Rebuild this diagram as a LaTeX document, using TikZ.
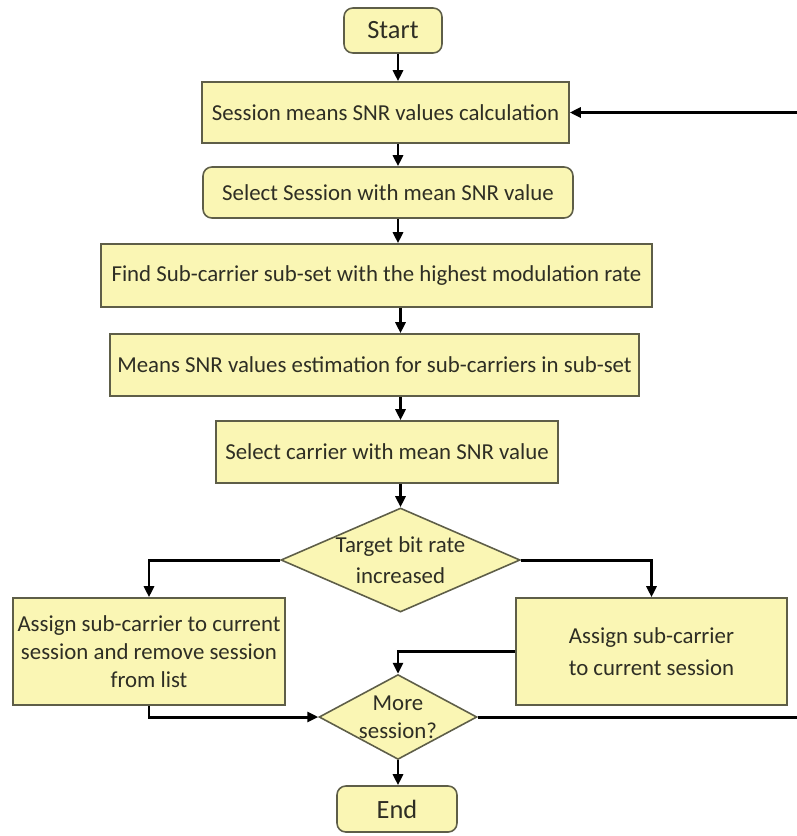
\documentclass[tikz,border=0pt]{standalone}
\usepackage{fontspec}
\setmainfont{Carlito}
\usetikzlibrary{shapes.geometric,arrows.meta}

\definecolor{boxfill}{HTML}{FAF6B4}
\definecolor{boxline}{HTML}{5E5E48}
\definecolor{boxtext}{HTML}{2E2E24}

\begin{document}
\begin{tikzpicture}[x=0.02cm,y=-0.02cm,
    every node/.style={font=\fontsize{13}{15}\selectfont,text=boxtext},
    proc/.style={draw=boxline,line width=0.9pt,fill=boxfill,rectangle,inner sep=0pt,align=center},
    rproc/.style={proc,rounded corners=5pt},
    term/.style={rproc,font=\fontsize{15}{18}\selectfont},
    decision/.style={draw=boxline,line width=0.9pt,fill=boxfill,diamond,inner sep=0pt,align=center},
    arr/.style={line width=1.7pt,-{Triangle[length=2.2mm,width=2mm]}}]
      % \draw[help lines](0,0) grid[step=50] (796,836);

      % Bounding box
      \useasboundingbox (0,0) rectangle (796,836);

      \coordinate (spine) at (398,0);
      \coordinate (edge) at (800,400);

      \draw (393,30.5) node[term,minimum width=1.96cm,minimum height=0.9cm] (start) {Start};
      \draw (385.5,112.5) node[proc,minimum width=7.34cm,minimum height=1.22cm] (calc) {Session means SNR values calculation};
      \draw (388,192.5) node[rproc,minimum width=7.4cm,minimum height=1.02cm] (selsess) {Select Session with mean SNR value};
      \draw (376.5,275.5) node[proc,minimum width=11.02cm,minimum height=1.26cm] (subset) {Find Sub-carrier sub-set with the highest modulation rate};
      \draw (374.5,365) node[proc,minimum width=10.58cm,minimum height=1.24cm] (estim) {Means SNR values estimation for sub-carriers in sub-set};
      \draw (387,452) node[proc,minimum width=6.84cm,minimum height=1.24cm] (selcarr) {Select carrier with mean SNR value};
      \draw (400.5,560) node[decision,aspect=2.3,minimum width=4.7cm,minimum height=2.0cm] (target) {Target bit rate\\[3pt]increased};
      \draw (149,651.5) node[proc,minimum width=5.44cm,minimum height=2.14cm] (remove) {Assign sub-carrier to current\\[1pt]session and remove session\\[1pt]from list};
      \draw (651.5,651.5) node[proc,minimum width=5.42cm,minimum height=2.14cm] (assign) {Assign sub-carrier\\[3pt]to current session};
      \draw (398,717) node[decision,aspect=1.86,minimum width=3.08cm,minimum height=1.66cm] (more) {More\\[1pt]session?};
      \draw (397,809) node[term,minimum width=2.4cm,minimum height=0.92cm] (end) {End};

      \draw [arr] (start.south -| spine) -- (calc.north -| spine);
      \draw [arr] (calc.south -| spine) -- (selsess.north -| spine);
      \draw [arr] (selsess.south -| spine) -- (subset.north -| spine);
      \draw [arr] (subset.south -| target) -- (estim.north -| target);
      \draw [arr] (estim.south -| target) -- (selcarr.north -| target);
      \draw [arr] (selcarr.south -| target) -- (target.north);
      \draw [arr] (target.west) -| (remove.north);
      \draw [arr] (target.east) -| (assign.north);
      \draw [arr] (remove.south) |- (more.west);
      \draw [arr] (assign.west) -| (more.north);
      \draw [arr] (more.south) -- (end.north -| more);
      \draw [arr] (more.east) -| (edge) |- (calc.east);
    \end{tikzpicture}
\end{document}
